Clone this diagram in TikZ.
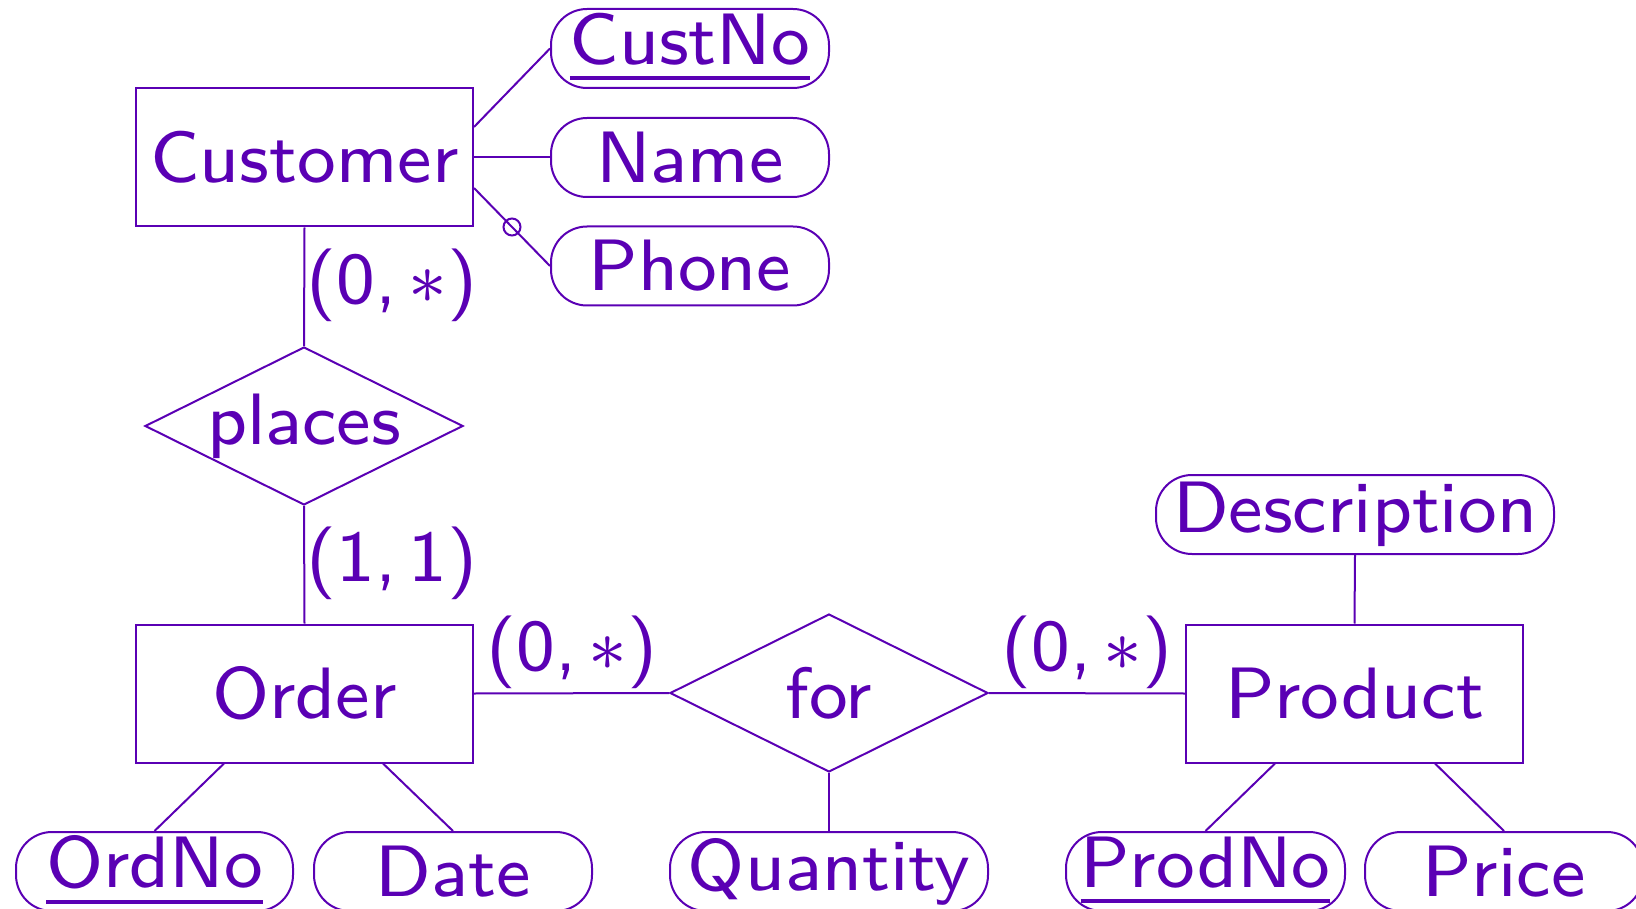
\documentclass[tikz,border=0pt]{standalone}
\usetikzlibrary{shapes.geometric,calc}
\definecolor{erc}{RGB}{90,0,180}
\newcommand{\BigT}[1]{\scalebox{9.1}{\fontsize{8}{10}\selectfont\sffamily #1}}
\begin{document}
\begin{tikzpicture}[x=1pt,y=-1pt,
  every node/.style={text=erc},
  ent/.style={draw=erc,line width=2pt,rectangle,minimum width=337pt,minimum height=138pt,inner sep=0pt},
  attr/.style={draw=erc,line width=2pt,rectangle,rounded corners=36pt,minimum height=79pt,inner sep=0pt},
  rel/.style={draw=erc,line width=2pt,diamond,minimum width=318pt,minimum height=158pt,inner sep=0pt},
  conn/.style={draw=erc,line width=2pt},
  card/.style={inner sep=0pt}]
\useasboundingbox (0,0) rectangle (1636,909);
% entities
\node[ent] (cust) at (304.5,157.5) {\BigT{Customer}};
\node[ent] (order) at (304.5,693.5) {\BigT{Order}};
\node[ent] (prod) at (1354.5,693.5) {\BigT{Product}};
% relationships
\node[rel,label={center:\BigT{places}}] (places) at (304,426) {};
\node[rel,label={center:\BigT{for}}] (for) at (829,693) {};
% attributes
\node[attr,minimum width=278pt] (custno) at (690,48.5) {\BigT{\underline{CustNo}}};
\node[attr,minimum width=278pt] (name) at (690,157.5) {\BigT{Name}};
\node[attr,minimum width=278pt] (phone) at (690,266) {\BigT{Phone}};
\node[attr,minimum width=398pt] (desc) at (1355,514.5) {\BigT{Description}};
\node[attr,minimum width=277pt] (ordno) at (154.5,871.5) {\BigT{\underline{OrdNo}}};
\node[attr,minimum width=278pt] (date) at (453,871.5) {\BigT{Date}};
\node[attr,minimum width=318pt] (qty) at (829,871.5) {\BigT{Quantity}};
\node[attr,minimum width=279pt] (prodno) at (1205.5,871.5) {\BigT{\underline{ProdNo}}};
\node[attr,minimum width=278pt] (price) at (1504,871.5) {\BigT{Price}};
% connectors
\draw[conn] ($(cust.east)+(0,-30.5)$) -- (custno.west);
\draw[conn] (cust.east) -- (name.west);
\draw[conn] ($(cust.east)+(0,30.5)$) -- node[pos=0.5,circle,draw=erc,line width=2pt,fill=none,minimum size=17pt,inner sep=0pt]{} (phone.west);
\draw[conn] (cust.south) -- (places.north);
\draw[conn] (places.south) -- (order.north);
\draw[conn] (order.east) -- (for.west);
\draw[conn] (for.east) -- (prod.west);
\draw[conn] (for.south) -- (qty.north);
\draw[conn] (desc.south) -- (prod.north);
\draw[conn] ($(order.south)+(-80.5,0)$) -- (ordno.north);
\draw[conn] ($(order.south)+(78.5,0)$) -- (date.north);
\draw[conn] ($(prod.south)+(-79.5,0)$) -- (prodno.north);
\draw[conn] ($(prod.south)+(80.5,0)$) -- (price.north);
% cardinalities
\node[card] (c1) at (392,285) {\BigT{(0,\,$\ast$)}};
\node[card] (c2) at (392,563) {\BigT{(1,\,1)}};
\node[card] (c3) at (572,652) {\BigT{(0,\,$\ast$)}};
\node[card] (c4) at (1087,652) {\BigT{(0,\,$\ast$)}};
\end{tikzpicture}
\end{document}
